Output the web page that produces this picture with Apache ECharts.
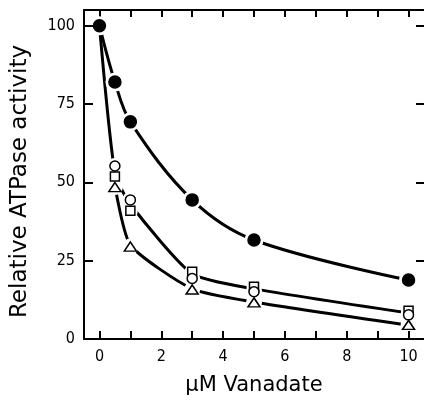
<!DOCTYPE html>
<html>
<head>
<meta charset="utf-8">
<script src="https://cdn.jsdelivr.net/npm/echarts@6/dist/echarts.min.js"></script>
<style>
  html, body { margin: 0; padding: 0; background: #fff; }
  #chart { width: 424px; height: 401px; }
</style>
</head>
<body>
<div id="chart"></div>
<script>
// ticks / labels
var xTicks = [0, 1, 2, 3, 4, 5, 6, 7, 8, 9, 10];
var xLabels = [0, 2, 4, 6, 8, 10];
var yTicks = [0, 25, 50, 75, 100];

// measured points (µM vanadate, relative activity)
var filledPts = [[0, 100], [0.5, 82], [1, 69.3], [3, 44.4], [5, 31.6], [10, 18.8]];
var circlePts = [[0.5, 55.2], [1, 44.4], [3, 19.3], [5, 15.1], [10, 7.7]];
var squarePts = [[0.5, 51.9], [1, 40.9], [3, 21.5], [5, 16.7], [10, 9]];
var trianglePts = [[0.5, 48.5], [1, 29.5], [3, 15.8], [5, 11.7], [10, 4.5]];

// fitted curves
var upperFit = [[0, 100], [0.5, 53], [1, 43], [3, 20.8], [5, 16], [10, 8.3]];
var lowerFit = [[0.5, 49], [1, 30], [3, 16], [5, 11.8], [10, 4.4]];

var myChart = echarts.init(document.getElementById('chart'));

function curve(data, smooth) {
    return {
        type: 'line',
        data: data,
        smooth: smooth,
        symbol: 'none',
        z: 2,
        lineStyle: { color: '#000', width: 3 }
    };
}

// white rings round the markers, so the curves stop short of them
function halo(data, size) {
    return {
        type: 'scatter',
        data: data,
        symbol: 'circle',
        symbolSize: size,
        z: 3,
        silent: true,
        itemStyle: { color: '#fff', borderWidth: 0, opacity: 1 }
    };
}

function marker(data, symbol, size, fill) {
    return {
        type: 'scatter',
        data: data,
        symbol: symbol,
        symbolSize: size,
        z: 4,
        itemStyle: { color: fill, borderColor: '#000', borderWidth: 1.5, opacity: 1 }
    };
}

var tickFont = { color: '#000', fontFamily: 'DejaVu Sans Condensed', fontSize: 16 };
var axisLineStyle = { onZero: false, lineStyle: { color: '#000', width: 2 } };

var option = {
    animation: false,
    backgroundColor: '#fff',
    grid: { left: 84, top: 10, width: 342, height: 331 },
    xAxis: [
        {
            type: 'value',
            min: -0.5,
            max: 10.5,
            position: 'bottom',
            name: 'µM Vanadate',
            nameLocation: 'middle',
            nameGap: 36,
            nameTextStyle: { color: '#000', fontFamily: 'DejaVu Sans', fontSize: 21 },
            axisLine: axisLineStyle,
            axisTick: { inside: true, length: 8, customValues: xTicks, lineStyle: { color: '#000', width: 2 } },
            axisLabel: Object.assign({ margin: 10, customValues: xLabels }, tickFont),
            splitLine: { show: false },
            z: 10
        },
        {
            type: 'value',
            min: -0.5,
            max: 10.5,
            position: 'top',
            axisLine: axisLineStyle,
            axisTick: { inside: true, length: 7, customValues: xTicks, lineStyle: { color: '#000', width: 2 } },
            axisLabel: { show: false },
            splitLine: { show: false }
        }
    ],
    yAxis: [
        {
            type: 'value',
            min: 0,
            max: 105,
            position: 'left',
            name: 'Relative ATPase activity',
            nameLocation: 'middle',
            nameGap: 52,
            nameTextStyle: { color: '#000', fontFamily: 'DejaVu Sans', fontSize: 23, padding: [0, 14, 0, 0] },
            axisLine: axisLineStyle,
            axisTick: { inside: true, length: 9, customValues: yTicks, lineStyle: { color: '#000', width: 2 } },
            axisLabel: Object.assign({ margin: 9, customValues: yTicks }, tickFont),
            splitLine: { show: false },
            z: 10
        },
        {
            type: 'value',
            min: 0,
            max: 105,
            position: 'right',
            axisLine: { show: false, onZero: false },
            axisTick: { show: true, inside: true, length: 8, customValues: yTicks, lineStyle: { color: '#000', width: 2 } },
            axisLabel: { show: false },
            splitLine: { show: false }
        }
    ],
    series: [
        curve(filledPts, 0.35),
        curve(upperFit, 0.2),
        curve(lowerFit, 0.2),
        halo(filledPts, 19),
        halo(circlePts, 16),
        halo(squarePts, 15),
        halo(trianglePts, 16),
        marker(filledPts, 'circle', 12, '#000'),
        marker(squarePts, 'rect', 9, '#fff'),
        marker(circlePts, 'circle', 10, '#fff'),
        marker(trianglePts, 'triangle', [12, 9], '#fff')
    ]
};
myChart.setOption(option);
</script>
</body>
</html>
